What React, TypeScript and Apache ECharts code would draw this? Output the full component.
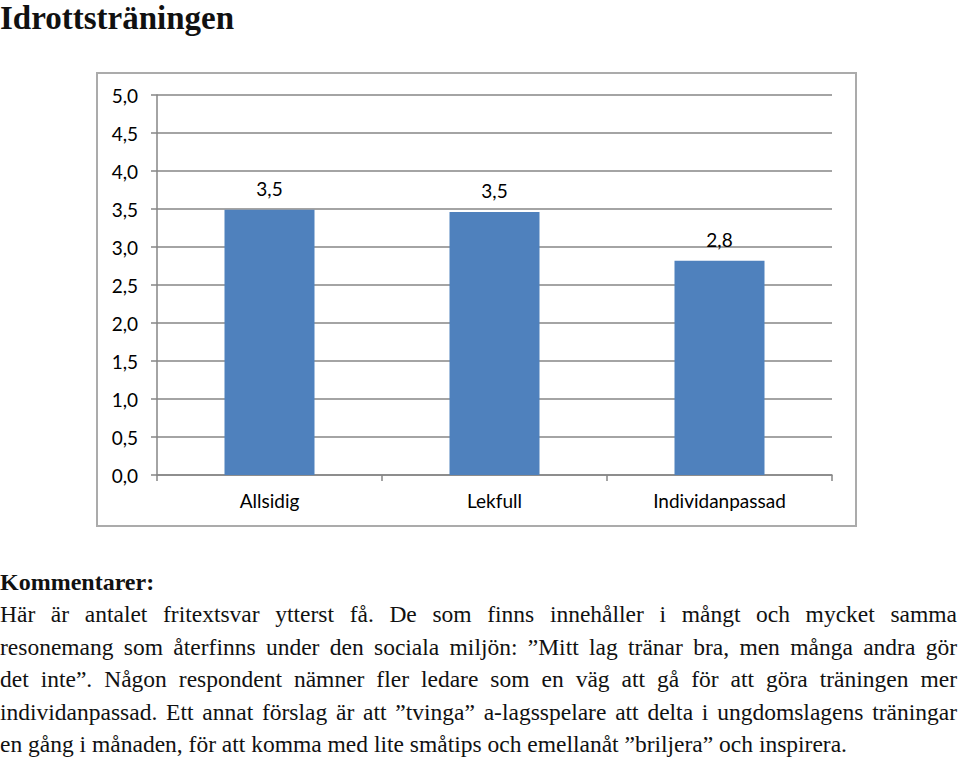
import React, { useEffect, useRef } from "react";
import * as echarts from "echarts";

const categories = ["Allsidig", "Lekfull", "Individanpassad"];
const values = [3.49, 3.46, 2.82];
const yTicks = [0, 0.5, 1, 1.5, 2, 2.5, 3, 3.5, 4, 4.5, 5];

const title = "Idrottsträningen";
const commentHeading = "Kommentarer:";
const commentLines = [
  "Här är antalet fritextsvar ytterst få. De som finns innehåller i mångt och mycket samma",
  "resonemang som återfinns under den sociala miljön: ”Mitt lag tränar bra, men många andra gör",
  "det inte”. Någon respondent nämner fler ledare som en väg att gå för att göra träningen mer",
  "individanpassad. Ett annat förslag är att ”tvinga” a-lagsspelare att delta i ungdomslagens träningar",
  "en gång i månaden, för att komma med lite småtips och emellanåt ”briljera” och inspirera.",
];

const fmt = (v: number) => v.toFixed(1).replace(".", ",");

export default function App() {
  const ref = useRef<HTMLDivElement>(null);
  useEffect(() => {
    if (!ref.current) return;
    const chart = echarts.init(ref.current, undefined, { renderer: "svg" });
    chart.setOption({
      animation: false,
      graphic: [
        {
          type: "rect",
          shape: { x: 1, y: 1, width: 759, height: 453 },
          style: { fill: "none", stroke: "#ababab", lineWidth: 2 },
        },
      ],
      grid: { left: 61, right: 25, top: 23, bottom: 52 },
      xAxis: {
        type: "category",
        data: categories,
        boundaryGap: true,
        axisLine: { lineStyle: { color: "#868686", width: 1.5 } },
        axisTick: { show: true, length: 6, lineStyle: { color: "#868686", width: 1.5 } },
        axisLabel: { color: "#000", fontFamily: "Lato", fontSize: 19, margin: 16 },
      },
      yAxis: {
        type: "value",
        min: yTicks[0],
        max: yTicks[yTicks.length - 1],
        interval: 0.5,
        axisLine: { show: true, lineStyle: { color: "#868686", width: 1.5 } },
        axisTick: { show: true, length: 6, lineStyle: { color: "#868686", width: 1.5 } },
        splitLine: { lineStyle: { color: "#868686", width: 1.5 } },
        axisLabel: {
          color: "#000",
          fontFamily: "Lato",
          fontSize: 19,
          margin: 19,
          formatter: (v: number) => fmt(v),
        },
      },
      series: [
        {
          type: "bar",
          data: values,
          barWidth: "40%",
          itemStyle: { color: "#4f81bd" },
          label: {
            show: true,
            position: "top",
            distance: 12,
            color: "#000",
            fontFamily: "Lato",
            fontSize: 19,
            formatter: (p: any) => fmt(p.value),
          },
        },
      ],
    });
    return () => chart.dispose();
  }, []);

  const serif = "'Liberation Serif', 'DejaVu Serif', serif";
  return (
    <div style={{ position: "absolute", left: 0, top: 0, width: 960, height: 762, background: "#fff", fontFamily: serif, color: "#111" }}>
      <div style={{ position: "absolute", left: 0, top: 0, fontSize: 33, fontWeight: "bold", lineHeight: "normal" }}>{title}</div>
      <div ref={ref} style={{ position: "absolute", left: 96, top: 72, width: 761, height: 455 }} />
      <div style={{ position: "absolute", left: 0, top: 565, fontSize: 24, fontWeight: "bold", lineHeight: "34px" }}>{commentHeading}</div>
      <div style={{ position: "absolute", left: 0, top: 598, width: 957, fontSize: 23.5, lineHeight: "32.5px" }}>
        {commentLines.map((l, i) => (
          <div
            key={i}
            style={{
              textAlign: i === commentLines.length - 1 ? "left" : "justify",
              textAlignLast: i === commentLines.length - 1 ? "left" : "justify",
              whiteSpace: "nowrap",
            }}
          >
            {l}
          </div>
        ))}
      </div>
    </div>
  );
}
